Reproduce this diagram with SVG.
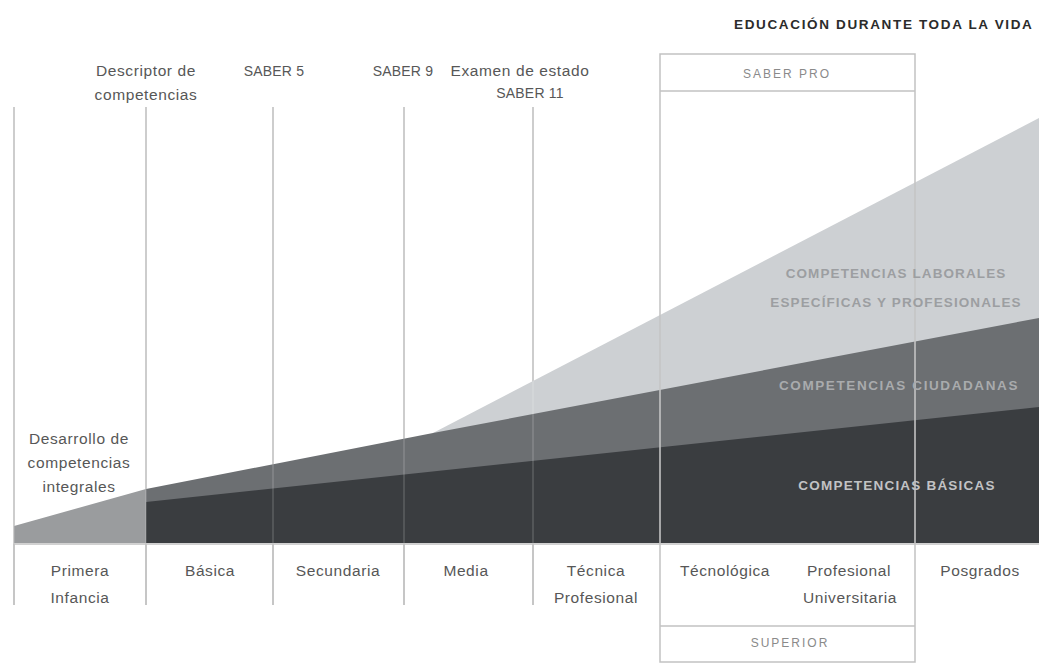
<svg xmlns="http://www.w3.org/2000/svg" width="1039" height="672" viewBox="0 0 1039 672">
  <style>
    .lbl { font-family: "Liberation Sans", Arial, sans-serif; font-size: 15.5px; fill: #575757; text-anchor: middle; letter-spacing: 0.6px; }
    .cap14 { font-size: 14px; letter-spacing: 0.2px; }
    .caps { font-family: "Liberation Sans", Arial, sans-serif; font-size: 12px; fill: #8a8a8a; text-anchor: middle; letter-spacing: 2px; }
    .band { font-family: "Liberation Sans", Arial, sans-serif; font-size: 13.5px; font-weight: bold; text-anchor: middle; letter-spacing: 1.1px; }
    .title { font-family: "Liberation Sans", Arial, sans-serif; font-size: 13.5px; font-weight: bold; fill: #2b2b2b; letter-spacing: 1.65px; }
    .grid { stroke: #c6c6c6; stroke-width: 2; fill: none; }
    .gridover { stroke: #ffffff; stroke-opacity: 0.13; stroke-width: 2; fill: none; }
    .frame { stroke: #c2c2c2; stroke-width: 1.5; fill: none; }
  </style>

  <rect width="1039" height="672" fill="#ffffff"/>

  <!-- stage dividers (behind the bands) -->
  <g id="connectors">
    <line class="grid" x1="14" y1="107" x2="14" y2="605"/>
    <line class="grid" x1="146" y1="107" x2="146" y2="605"/>
    <line class="grid" x1="273" y1="107" x2="273" y2="605"/>
    <line class="grid" x1="404" y1="107" x2="404" y2="605"/>
    <line class="grid" x1="533" y1="107" x2="533" y2="605"/>
    <line class="frame" x1="14" y1="544" x2="1039" y2="544"/>
  </g>

  <!-- competence bands -->
  <g id="bands">
    <polygon id="band-laborales" points="433,433 1039,118 1039,543 433,543" fill="#cdd0d3"/>
    <polygon id="band-ciudadanas" points="146,489 433,433 1039,318 1039,543 146,543" fill="#6c6f72"/>
    <polygon id="band-basicas" points="146,502 1039,407 1039,543 146,543" fill="#3a3d40"/>
    <polygon id="band-integrales" points="14,526 146,489 146,543 14,543" fill="#9a9c9e"/>
  </g>

  <!-- dividers showing faintly through the bands -->
  <g id="grid-overlay">
    <line class="gridover" x1="14" y1="107" x2="14" y2="544"/>
    <line class="gridover" x1="146" y1="107" x2="146" y2="544"/>
    <line class="gridover" x1="273" y1="107" x2="273" y2="544"/>
    <line class="gridover" x1="404" y1="107" x2="404" y2="544"/>
    <line class="gridover" x1="533" y1="107" x2="533" y2="544"/>
    <line class="gridover" x1="660" y1="91" x2="660" y2="544"/>
    <line class="gridover" x1="915" y1="91" x2="915" y2="544"/>
  </g>

  <!-- higher education frame -->
  <g id="superior-box">
    <rect class="frame" x="660" y="54" width="255" height="608"/>
    <line class="frame" x1="660" y1="91" x2="915" y2="91"/>
    <line class="frame" x1="660" y1="626" x2="915" y2="626"/>
    <text class="caps" x="787" y="78">SABER PRO</text>
    <text class="caps" x="790" y="647">SUPERIOR</text>
  </g>

  <g id="title">
    <text class="title" x="734" y="29">EDUCACIÓN DURANTE TODA LA VIDA</text>
  </g>

  <!-- assessment milestones -->
  <g id="milestone-descriptor">
    <text class="lbl" x="146" y="76">Descriptor de</text>
    <text class="lbl" x="146" y="100">competencias</text>
  </g>
  <g id="milestone-saber5">
    <text class="lbl cap14" x="274" y="76">SABER 5</text>
  </g>
  <g id="milestone-saber9">
    <text class="lbl cap14" x="403" y="76">SABER 9</text>
  </g>
  <g id="milestone-saber11">
    <text class="lbl" x="520" y="76">Examen de estado</text>
    <text class="lbl cap14" x="530" y="98">SABER 11</text>
  </g>

  <g id="note-integrales">
    <text class="lbl" x="79" y="444">Desarrollo de</text>
    <text class="lbl" x="79" y="468">competencias</text>
    <text class="lbl" x="79" y="492">integrales</text>
  </g>

  <!-- band captions -->
  <g id="label-laborales">
    <text class="band" x="896" y="278" fill="#9c9ea1">COMPETENCIAS LABORALES</text>
    <text class="band" x="896" y="307" fill="#9c9ea1">ESPECÍFICAS Y PROFESIONALES</text>
  </g>
  <g id="label-ciudadanas">
    <text class="band" x="899" y="390" fill="#a9abad" style="letter-spacing:1.6px">COMPETENCIAS CIUDADANAS</text>
  </g>
  <g id="label-basicas">
    <text class="band" x="897" y="490" fill="#c2c3c5" style="letter-spacing:1.2px">COMPETENCIAS BÁSICAS</text>
  </g>

  <!-- education levels -->
  <g id="level-primera">
    <text class="lbl" x="80" y="576">Primera</text>
    <text class="lbl" x="80" y="603">Infancia</text>
  </g>
  <g id="level-basica">
    <text class="lbl" x="210" y="576">Básica</text>
  </g>
  <g id="level-secundaria">
    <text class="lbl" x="338" y="576">Secundaria</text>
  </g>
  <g id="level-media">
    <text class="lbl" x="466" y="576">Media</text>
  </g>
  <g id="level-tecnica">
    <text class="lbl" x="596" y="576">Técnica</text>
    <text class="lbl" x="596" y="603">Profesional</text>
  </g>
  <g id="level-tecnologica">
    <text class="lbl" x="725" y="576">Técnológica</text>
  </g>
  <g id="level-universitaria">
    <text class="lbl" x="849" y="576">Profesional</text>
    <text class="lbl" x="850" y="603">Universitaria</text>
  </g>
  <g id="level-posgrados">
    <text class="lbl" x="980" y="576">Posgrados</text>
  </g>
</svg>
